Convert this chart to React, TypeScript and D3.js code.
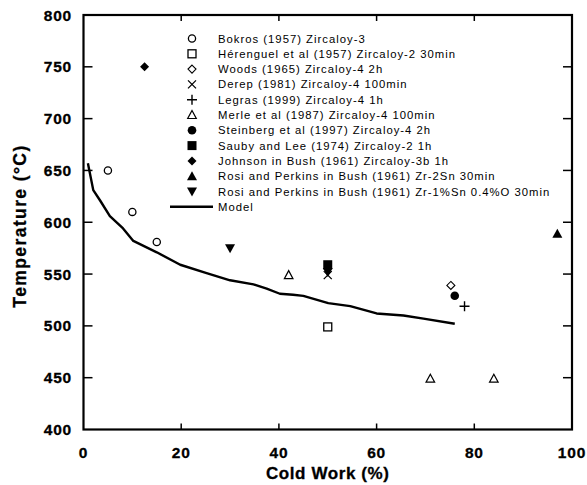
import React from "react";
import * as d3 from "d3";

// Axis ticks
const xTicks = [0, 20, 40, 60, 80, 100];
const yTicks = [400, 450, 500, 550, 600, 650, 700, 750, 800];

// Experimental recrystallisation data: [cold work %, temperature °C]
const bokros = [[5, 650], [10, 610], [15, 581]];
const herenguel = [[50, 499]];
const woods = [[75.2, 539]];
const derep = [[50, 549]];
const legras = [[78, 519]];
const merle = [[42, 549], [71, 449], [84, 449]];
const steinberg = [[76, 529]];
const sauby = [[50, 559]];
const johnson = [[12.5, 750]];
const rosiZr2Sn = [[97, 589]];
const rosiZr1Sn = [[30, 575], [50, 552]];

// Model curve
const modelX = [0.9, 2, 3.4, 5.4, 8.1, 10.2, 15, 19.8, 25.2, 30, 34.8, 37.5, 40.2, 42.9, 45, 50.1, 54.6, 60, 65.5, 69.6, 76];
const modelY = [657, 631, 621, 606, 594, 582, 571, 559, 551, 544, 540, 536, 531, 530, 529, 522, 519, 512, 510, 507, 502];

type Kind = "circle" | "square" | "diamond" | "times" | "plus" | "tri" | "disc" | "fsquare" | "fdiamond" | "ftri" | "ftridown";

const series: { label: string; kind: Kind; data: number[][] }[] = [
  { label: "Bokros (1957) Zircaloy-3", kind: "circle", data: bokros },
  { label: "Hérenguel et al (1957) Zircaloy-2 30min", kind: "square", data: herenguel },
  { label: "Woods (1965) Zircaloy-4 2h", kind: "diamond", data: woods },
  { label: "Derep (1981) Zircaloy-4 100min", kind: "times", data: derep },
  { label: "Legras (1999) Zircaloy-4 1h", kind: "plus", data: legras },
  { label: "Merle et al (1987) Zircaloy-4 100min", kind: "tri", data: merle },
  { label: "Steinberg et al (1997) Zircaloy-4 2h", kind: "disc", data: steinberg },
  { label: "Sauby and Lee (1974) Zircaloy-2 1h", kind: "fsquare", data: sauby },
  { label: "Johnson in Bush (1961) Zircaloy-3b 1h", kind: "fdiamond", data: johnson },
  { label: "Rosi and Perkins in Bush (1961) Zr-2Sn 30min", kind: "ftri", data: rosiZr2Sn },
  { label: "Rosi and Perkins in Bush (1961) Zr-1%Sn 0.4%O 30min", kind: "ftridown", data: rosiZr1Sn },
];

const W = 587;
const H = 485;
const x = d3.scaleLinear().domain([0, 100]).range([83.5, 572]);
const y = d3.scaleLinear().domain([400, 800]).range([429.5, 15]);

function Marker({ kind, cx, cy }: { kind: Kind; cx: number; cy: number }) {
  const s = 1.3;
  switch (kind) {
    case "circle":
      return <circle cx={cx} cy={cy} r={3.6} fill="white" stroke="black" strokeWidth={s} />;
    case "disc":
      return <circle cx={cx} cy={cy} r={4.3} fill="black" />;
    case "square":
      return <rect x={cx - 4} y={cy - 4} width={8} height={8} fill="white" stroke="black" strokeWidth={s} />;
    case "fsquare":
      return <rect x={cx - 4.5} y={cy - 4.5} width={9} height={9} fill="black" />;
    case "diamond":
      return <path d={`M${cx},${cy - 4}L${cx + 4},${cy}L${cx},${cy + 4}L${cx - 4},${cy}Z`} fill="white" stroke="black" strokeWidth={1.1} />;
    case "fdiamond":
      return <path d={`M${cx},${cy - 4.5}L${cx + 4.5},${cy}L${cx},${cy + 4.5}L${cx - 4.5},${cy}Z`} fill="black" />;
    case "times":
      return <path d={`M${cx - 4},${cy - 4}L${cx + 4},${cy + 4}M${cx - 4},${cy + 4}L${cx + 4},${cy - 4}`} stroke="black" strokeWidth={1.3} />;
    case "plus":
      return <path d={`M${cx - 5},${cy}L${cx + 5},${cy}M${cx},${cy - 5}L${cx},${cy + 5}`} stroke="black" strokeWidth={1.4} />;
    case "tri":
      return <path d={`M${cx},${cy - 4.5}L${cx + 4.3},${cy + 3.5}L${cx - 4.3},${cy + 3.5}Z`} fill="white" stroke="black" strokeWidth={1.2} />;
    case "ftri":
      return <path d={`M${cx},${cy - 5}L${cx + 5},${cy + 4}L${cx - 5},${cy + 4}Z`} fill="black" />;
    case "ftridown":
      return <path d={`M${cx},${cy + 5}L${cx + 5},${cy - 4}L${cx - 5},${cy - 4}Z`} fill="black" />;
  }
  return null;
}

export default function App() {
  const line = d3
    .line<number>()
    .x((_, i) => x(modelX[i]))
    .y((v) => y(v));
  const modelPath = line(modelY) || "";

  const x0 = x(0), x1 = x(100), y0 = y(400), y1 = y(800);
  const legendX = 192;
  const legendTextX = 218;
  const legendY0 = 38.5;
  const legendStep = 15.3;
  const font = "'Liberation Sans', Arial, Helvetica, sans-serif";

  return (
    <svg
      width={W}
      height={H}
      style={{ position: "absolute", left: 0, top: 0, background: "white", display: "block" }}
      fontFamily={font}
    >
      <rect width={W} height={H} fill="white" />

      {/* ticks, pointing inward on all four sides */}
      {xTicks.slice(1, -1).map((t) => (
        <g key={"xt" + t}>
          <line x1={x(t)} x2={x(t)} y1={y0} y2={y0 - 6} stroke="black" strokeWidth={1.5} />
          <line x1={x(t)} x2={x(t)} y1={y1} y2={y1 + 6} stroke="black" strokeWidth={1.5} />
        </g>
      ))}
      {yTicks.slice(1, -1).map((t) => (
        <g key={"yt" + t}>
          <line x1={x0} x2={x0 + 9} y1={y(t)} y2={y(t)} stroke="black" strokeWidth={1.5} />
          <line x1={x1} x2={x1 - 9} y1={y(t)} y2={y(t)} stroke="black" strokeWidth={1.5} />
        </g>
      ))}

      {/* frame */}
      <rect x={x0} y={y1} width={x1 - x0} height={y0 - y1} fill="none" stroke="black" strokeWidth={2.2} />

      {/* tick labels */}
      {xTicks.map((t) => (
        <text key={"xl" + t} x={x(t)} y={458} textAnchor="middle" fontSize={15.5} fontWeight="bold" letterSpacing={0.8} stroke="black" strokeWidth={0.3}>
          {t}
        </text>
      ))}
      {yTicks.map((t) => (
        <text key={"yl" + t} x={72} y={y(t) + 5.5} textAnchor="end" fontSize={15.5} fontWeight="bold" letterSpacing={0.8} stroke="black" strokeWidth={0.3}>
          {t}
        </text>
      ))}

      {/* axis titles */}
      <text x={(x0 + x1) / 2} y={479} textAnchor="middle" fontSize={17} fontWeight="bold" letterSpacing={0.6} stroke="black" strokeWidth={0.3}>
        Cold Work (%)
      </text>
      <text
        transform={`translate(26,${226}) rotate(-90)`}
        textAnchor="middle"
        fontSize={17.5}
        fontWeight="bold"
        letterSpacing={1.4}
        stroke="black"
        strokeWidth={0.3}
      >
        Temperature (°C)
      </text>

      {/* model curve */}
      <path d={modelPath} fill="none" stroke="black" strokeWidth={2.4} strokeLinejoin="round" />

      {/* data points */}
      {series.map((s) =>
        s.data.map((d, i) => <Marker key={s.label + i} kind={s.kind} cx={x(d[0])} cy={y(d[1])} />)
      )}

      {/* legend */}
      {series.map((s, i) => (
        <g key={"lg" + i}>
          <Marker kind={s.kind} cx={legendX} cy={legendY0 + i * legendStep} />
          <text x={legendTextX} y={legendY0 + i * legendStep + 4} fontSize={11.3} letterSpacing={1}>
            {s.label}
          </text>
        </g>
      ))}
      <line
        x1={170}
        x2={213}
        y1={legendY0 + series.length * legendStep}
        y2={legendY0 + series.length * legendStep}
        stroke="black"
        strokeWidth={2.4}
      />
      <text x={legendTextX} y={legendY0 + series.length * legendStep + 4} fontSize={11.3} letterSpacing={1}>
        Model
      </text>
    </svg>
  );
}
